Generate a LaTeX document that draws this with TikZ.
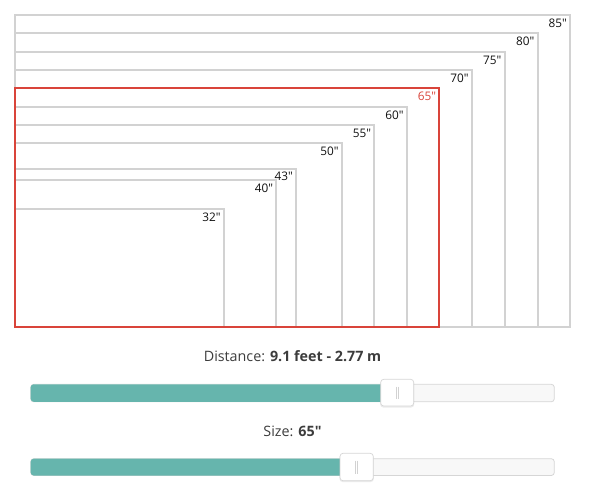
\documentclass[tikz,border=0pt]{standalone}
\usepackage{fontspec}
\setmainfont{Open Sans}[Ligatures=TeXOff]
\definecolor{framegray}{HTML}{D2D2D2}
\definecolor{framered}{HTML}{D9443A}
\definecolor{txtdark}{HTML}{111111}
\definecolor{txtgray}{HTML}{3C3C3C}
\definecolor{teal}{HTML}{66B5AD}
\definecolor{trackbg}{HTML}{F8F8F8}
\definecolor{trackline}{HTML}{D6D6D6}
\tikzset{
  frame/.style={draw=framegray, line width=2pt},
  redframe/.style={draw=framered, line width=2pt},
  sizelabel/.style={anchor=base east, inner sep=0pt, text=txtdark, font=\fontsize{11.8}{13}\selectfont},
  caption/.style={inner sep=0pt, text=txtgray, font=\fontsize{14.3}{16}\selectfont},
  track/.style={draw=trackline, line width=0.8pt, fill=trackbg, rounded corners=3pt},
  fillbar/.style={fill=teal, rounded corners=3pt},
  handle/.style={draw=trackline, line width=0.7pt, fill=white, rounded corners=3pt},
  grip/.style={draw=framegray, line width=0.6pt}
}
\begin{document}
\begin{tikzpicture}[x=1pt,y=-1pt]
\useasboundingbox (0,0) rectangle (597,491);
% frames (largest first)
\foreach \r/\t in {570/15, 537.5/33.3, 504.5/52, 471.7/70.3,
  406.7/106.7, 374.3/125, 341.7/143.3, 295.7/169.3, 276/180, 223.7/209.3}{
  \draw[frame] (15,326.5) rectangle (\r,\t);
}
\draw[redframe] (15,326.5) rectangle (439.3,88.3);
\node[sizelabel] (l85) at (567,27.3) {85"};
\node[sizelabel] (l80) at (534.5,45.6) {80"};
\node[sizelabel] (l75) at (501.5,64.3) {75"};
\node[sizelabel] (l70) at (468.7,82.6) {70"};
\node[sizelabel, text=framered] (l65) at (436.3,100.6) {65"};
\node[sizelabel] (l60) at (403.7,119) {60"};
\node[sizelabel] (l55) at (371.3,137.3) {55"};
\node[sizelabel] (l50) at (338.7,155.6) {50"};
\node[sizelabel] (l43) at (293,180) {43"};
\node[sizelabel] (l40) at (273.3,192.3) {40"};
\node[sizelabel] (l32) at (220.7,221.7) {32"};
% distance slider
\node[caption] (dist) at (292.5,356.5) {Distance: \textbf{9.1 feet - 2.77 m}};
\draw[track] (30.7,384.3) rectangle (554.3,401.8);
\fill[fillbar] (30.7,384.3) rectangle (390,401.8);
\fill[black, opacity=0.08, rounded corners=3pt] (380.2,380.5) rectangle (414.2,407.5);
\draw[handle] (380.7,379.3) rectangle (413.7,406);
\draw[grip] (396.2,386.5) -- (396.2,398.5) (398.2,386.5) -- (398.2,398.5);
% size slider
\node[caption] (size) at (292.5,431) {Size: \textbf{65"}};
\draw[track] (30.7,458.7) rectangle (554.3,475.5);
\fill[fillbar] (30.7,458.7) rectangle (350,475.5);
\fill[black, opacity=0.08, rounded corners=3pt] (339.5,454.5) rectangle (373.8,482);
\draw[handle] (340,453.3) rectangle (373.3,480.7);
\draw[grip] (355.7,460.5) -- (355.7,473.5) (357.7,460.5) -- (357.7,473.5);
\end{tikzpicture}
\end{document}
